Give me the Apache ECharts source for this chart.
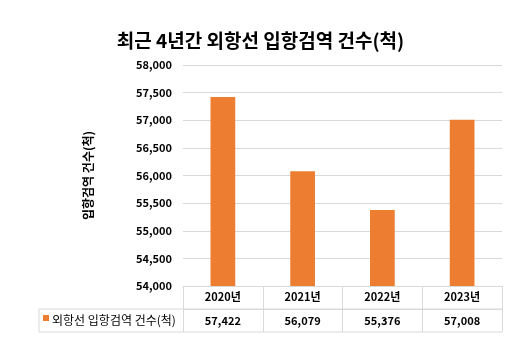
<!DOCTYPE html>
<html><head><meta charset="utf-8">
<script src="https://cdn.jsdelivr.net/npm/echarts@6/dist/echarts.min.js"></script>
<style>html,body{margin:0;padding:0;background:#fff}#c{width:521px;height:354px}</style>
</head><body><div id="c"></div>
<script>
var title = '최근 4년간 외항선 입항검역 건수(척)';
var seriesName = '외항선 입항검역 건수(척)';
var yAxisName = '입항검역 건수(척)';
var categories = ['2020년', '2021년', '2022년', '2023년'];
var values = [57422, 56079, 55376, 57008];
var yMin = 54000, yMax = 58000, yStep = 500;

var FONT = '"Noto Sans CJK KR", "Noto Sans", sans-serif';
var ORANGE = '#ED7D31';
var LINE = '#d9d9d9';
var G = {left: 183, right: 19, top: 65, bottom: 68};
var W = 521, H = 354;
var x0 = G.left, x1 = W - G.right, y0 = H - G.bottom;
var legL = 39, row = 23;

var chart = echarts.init(document.getElementById('c'), null, {renderer: 'canvas'});
chart.setOption({
  animation: false,
  backgroundColor: '#fff',
  title: {
    text: title, left: 'center', top: 26,
    textStyle: {fontFamily: FONT, fontSize: 19, fontWeight: 'bold', color: '#000'}
  },
  grid: G,
  xAxis: [{
    type: 'category', data: categories, position: 'bottom',
    axisLine: {show: true, lineStyle: {color: LINE}},
    axisTick: {show: true, length: row * 2, lineStyle: {color: LINE}},
    axisLabel: {fontFamily: FONT, fontSize: 11, fontWeight: 'bold', color: '#000', margin: 4, lineHeight: 14}
  }, {
    type: 'category', data: values.map(function(v){return v.toLocaleString('en-US');}),
    position: 'bottom', offset: row,
    axisLine: {show: true, lineStyle: {color: LINE}},
    axisTick: {show: false},
    axisLabel: {fontFamily: FONT, fontSize: 11, fontWeight: 'bold', color: '#000', margin: 5, lineHeight: 14}
  }],
  yAxis: {
    type: 'value', min: yMin, max: yMax, interval: yStep,
    name: yAxisName, nameLocation: 'middle', nameGap: 89, nameRotate: 90,
    nameTextStyle: {fontFamily: FONT, fontSize: 12, fontWeight: 'bold', color: '#000'},
    axisLine: {show: false}, axisTick: {show: false},
    axisLabel: {fontFamily: FONT, fontSize: 11, fontWeight: 'bold', color: '#000', margin: 11,
      formatter: function(v){return v.toLocaleString('en-US');}},
    splitLine: {lineStyle: {color: LINE}}
  },
  series: [{
    type: 'bar', name: seriesName, data: values, barWidth: '31%',
    itemStyle: {color: ORANGE}
  }],
  graphic: [
    {type: 'line', shape: {x1: legL, y1: y0 + row, x2: x1, y2: y0 + row}, style: {stroke: LINE, lineWidth: 1}},
    {type: 'line', shape: {x1: legL, y1: y0 + row * 2, x2: x1, y2: y0 + row * 2}, style: {stroke: LINE, lineWidth: 1}},
    {type: 'line', shape: {x1: legL, y1: y0 + row, x2: legL, y2: y0 + row * 2}, style: {stroke: LINE, lineWidth: 1}},
    {type: 'rect', shape: {x: legL + 4, y: y0 + row + 6, width: 6, height: 6}, style: {fill: ORANGE}},
    {type: 'text', x: legL + 13, y: y0 + row + 11.5,
      style: {text: seriesName, fontFamily: FONT, fontSize: 12, fill: '#000', verticalAlign: 'middle'}}
  ]
});
</script></body></html>
